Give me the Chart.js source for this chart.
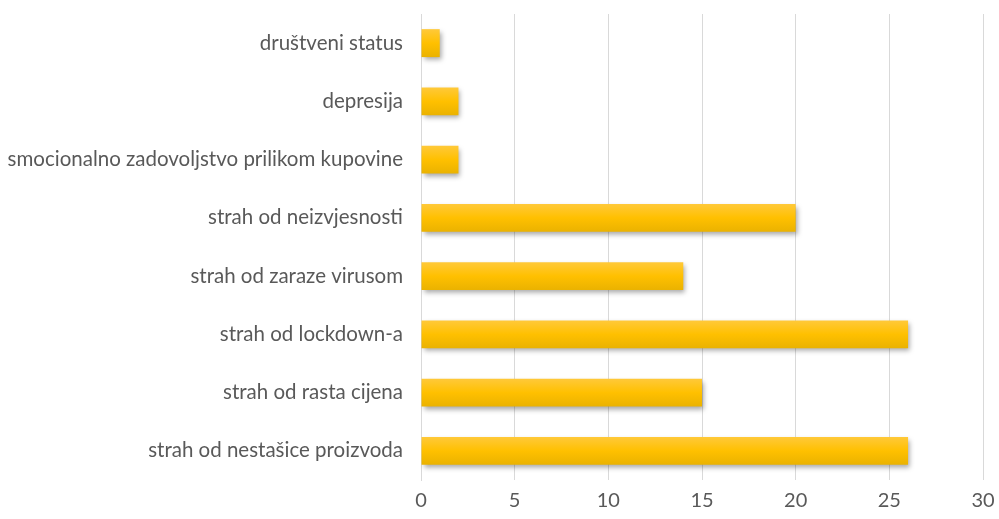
<!DOCTYPE html>
<html>
<head>
<meta charset="utf-8">
<script src="https://cdn.jsdelivr.net/npm/chart.js@4/dist/chart.umd.min.js"></script>
<style>
html,body{margin:0;padding:0;background:#fff;}
#wrap{width:999px;height:519px;position:relative;}
</style>
</head>
<body>
<div id="wrap"><canvas id="c" width="999" height="519"></canvas></div>
<script>
const categories = [
  "društveni status",
  "depresija",
  "smocionalno zadovoljstvo prilikom kupovine",
  "strah od neizvjesnosti",
  "strah od zaraze virusom",
  "strah od lockdown-a",
  "strah od rasta cijena",
  "strah od nestašice proizvoda"
];
const values = [1, 2, 2, 20, 14, 26, 15, 26];
const xTicks = [0, 5, 10, 15, 20, 25, 30];

const FONT = "Lato, 'Open Sans', sans-serif";

const shadowPlugin = {
  id: 'barShadow',
  beforeDatasetsDraw(chart) {
    const ctx = chart.ctx;
    ctx.save();
    ctx.shadowColor = 'rgba(0,0,0,0.35)';
    ctx.shadowBlur = 5;
    ctx.shadowOffsetX = 2;
    ctx.shadowOffsetY = 3;
  },
  afterDatasetsDraw(chart) {
    chart.ctx.restore();
  }
};

function barGradient(context) {
  const chart = context.chart;
  const ys = chart.scales && chart.scales.y;
  if (!chart.chartArea || !ys || context.dataIndex === undefined) return '#ffc000';
  const c = ys.getPixelForValue(context.dataIndex);
  const half = 14;
  const g = chart.ctx.createLinearGradient(0, c - half, 0, c + half);
  g.addColorStop(0, '#ffc93a');
  g.addColorStop(0.5, '#ffc000');
  g.addColorStop(1, '#eab200');
  return g;
}

new Chart(document.getElementById('c'), {
  type: 'bar',
  data: {
    labels: categories,
    datasets: [{
      data: values,
      backgroundColor: barGradient,
      borderWidth: 0,
      barPercentage: 0.8,
      categoryPercentage: 0.6
    }]
  },
  plugins: [shadowPlugin],
  options: {
    indexAxis: 'y',
    responsive: false,
    animation: false,
    devicePixelRatio: 1,
    layout: { padding: { top: 14, right: 16, left: 0, bottom: 0 } },
    plugins: { legend: { display: false }, tooltip: { enabled: false } },
    scales: {
      x: {
        min: 0, max: 30,
        afterBuildTicks(scale) { scale.ticks = xTicks.map(v => ({ value: v })); },
        grid: { color: '#d9d9d9', lineWidth: 1, drawTicks: false },
        border: { display: false },
        ticks: { color: '#595959', font: { family: FONT, size: 20 }, padding: 9 },
        afterFit(scale) { scale.height = 39; scale.paddingLeft = 0; scale.paddingRight = 0; }
      },
      y: {
        grid: { display: false, drawTicks: false },
        border: { display: true, color: '#d9d9d9' },
        ticks: { color: '#595959', font: { family: FONT, size: 20.5 }, padding: 18, autoSkip: false },
        afterFit(scale) { scale.width = 421; scale.paddingTop = 0; scale.paddingBottom = 0; }
      }
    }
  }
});
</script>
</body>
</html>
